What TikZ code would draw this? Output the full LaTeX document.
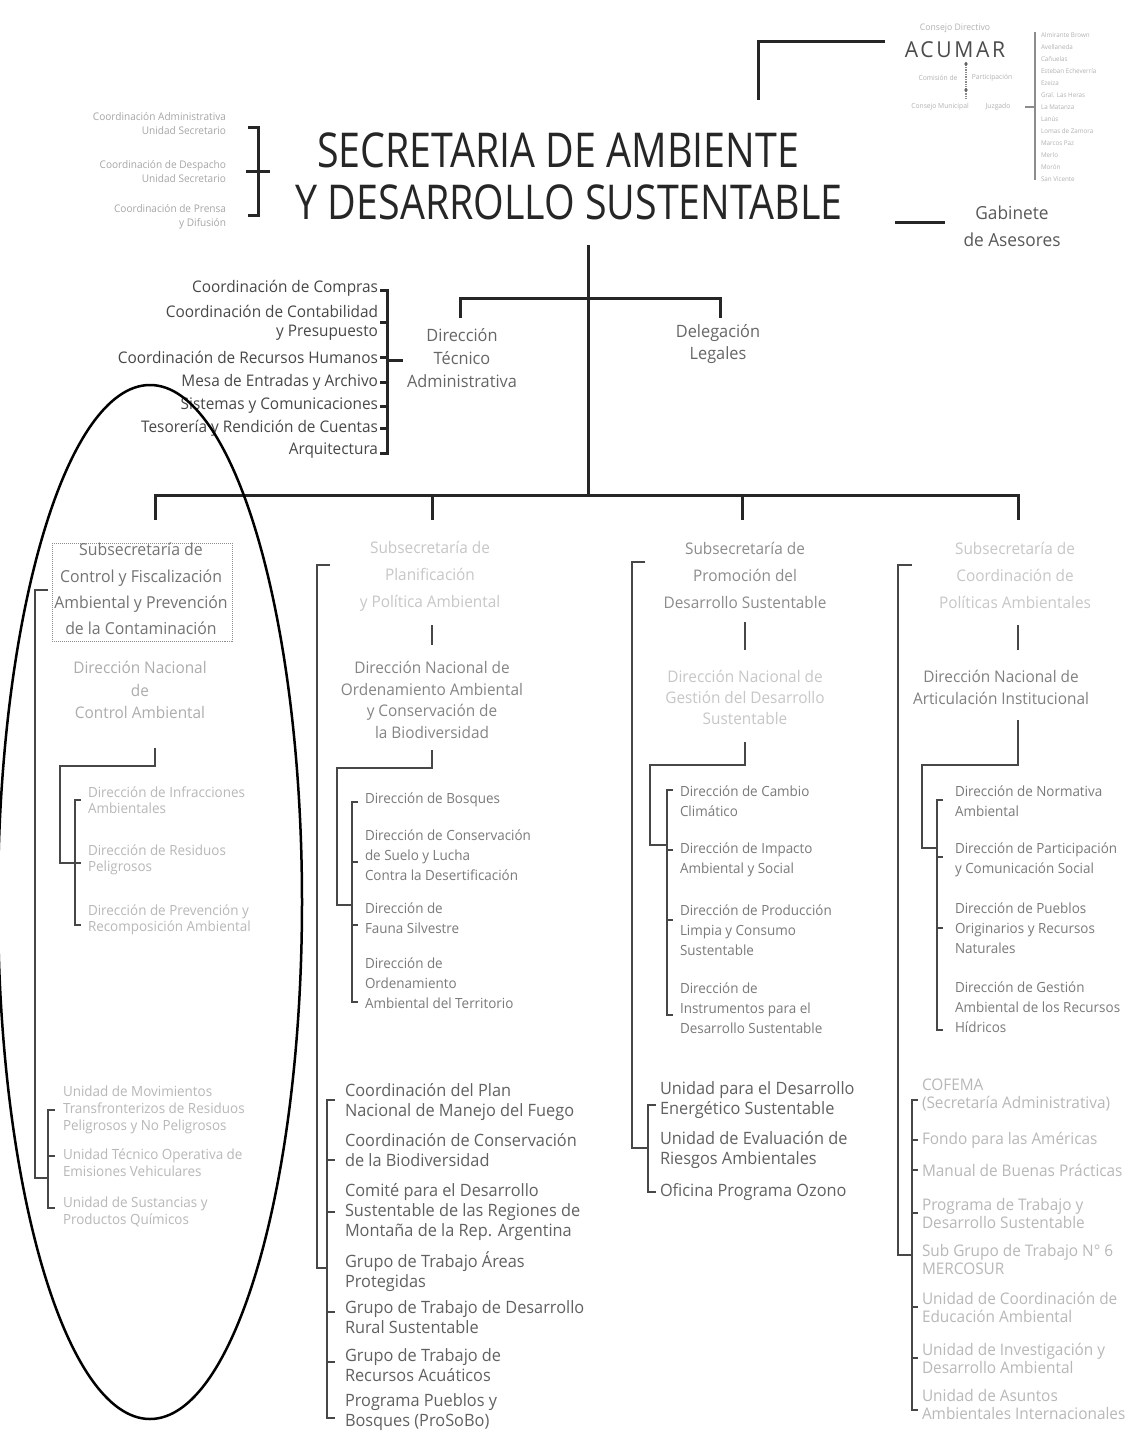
\documentclass[tikz,border=0pt]{standalone}
\usepackage{fontspec}
\setmainfont{Open Sans}[FakeStretch=0.96]
\newfontfamily\titlefont{Open Sans}[FakeStretch=0.82]
\begin{document}
\begin{tikzpicture}[x=1bp,y=-1bp,
  T/.style n args={3}{font=\fontsize{#1bp}{#2bp}\selectfont, text=#3, inner sep=0pt, outer sep=0pt},
  L/.style={align=left, anchor=west},
  R/.style={align=right, anchor=east},
  C/.style={align=center},
  main/.style={draw=black!85, line width=3bp},
  ln/.style={draw=black!72, line width=1.8bp},
  lnf/.style={draw=black!45, line width=1.4bp}]
\useasboundingbox (0,0) rectangle (1139,1451);
\fill[white] (0,0) rectangle (1139,1451);

% ---------- title ----------
\node[inner sep=0pt, text=black!85, font=\titlefont\fontsize{48bp}{52bp}\selectfont] (t1) at (558,150) {SECRETARIA DE AMBIENTE};
\node[inner sep=0pt, text=black!85, font=\titlefont\fontsize{48bp}{52bp}\selectfont] (t2) at (569,202) {Y DESARROLLO SUSTENTABLE};

% top-left coordinations
\node[T={10.5}{14}{black!35},R] (ca) at (226,124) {Coordinación Administrativa\\Unidad Secretario};
\node[T={10.5}{14}{black!35},R] (cd) at (226,172) {Coordinación de Despacho\\Unidad Secretario};
\node[T={10.5}{14}{black!35},R] (cp) at (226,217) {Coordinación de Prensa\\y Difusión};
\draw[main] (248,128) -- (258,128) -- (258,215) -- (248,215);
\draw[main] (246,172) -- (270,172);

% ACUMAR
\node[T={9}{10}{black!30}] (cdir) at (955,28) {Consejo Directivo};
\node[T={22}{24}{black!70}] (acumar) at (955,50) {\addfontfeatures{LetterSpace=12}ACUMAR};
\draw[main] (885,42) -- (758,42) -- (758,100);
\draw[lnf, densely dotted] (966,62) -- (966,98);
\fill[black!60] (966,64) circle (1.8) (966,90) circle (1.8);
\node[T={7}{8}{black!30}] (ac1) at (938,78) {Comisión de};
\node[T={7}{8}{black!30}] (ac2) at (992,78) {Participación};
\node[T={7}{8}{black!30}] (ac3) at (940,107) {Consejo Municipal};
\node[T={7}{8}{black!30}] (ac4) at (998,107) {Juzgado};
\draw[lnf] (1025,107) -- (1035,107);
\draw[lnf] (1035,32) -- (1035,180);
\foreach \y/\t in {35/Almirante Brown,47/Avellaneda,59/Cañuelas,71/Esteban Echeverría,83/Ezeiza,95/Gral. Las Heras,107/La Matanza,119/Lanús,131/Lomas de Zamora,143/Marcos Paz,155/Merlo,167/Morón,179/San Vicente}
  \node[T={6.5}{7}{black!30},L] at (1041,\y) {\t};

% Gabinete
\draw[main] (895,222) -- (945,222);
\node[T={18}{27}{black!65},C] (gab) at (1012,226) {Gabinete\\de Asesores};

% ---------- main trunk ----------
\draw[main] (588,245) -- (588,495);
\draw[main] (460,318) -- (460,298) -- (720,298) -- (720,318);
\draw[main] (155,520) -- (155,495) -- (1018,495) -- (1018,520);
\draw[main] (432,495) -- (432,520);
\draw[main] (742,495) -- (742,520);

% Direccion Tecnico Administrativa + list
\node[T={17}{23}{black!60},C] (dta) at (462,358) {Dirección\\Técnico\\Administrativa};
\node[T={17}{22}{black!60},C] (dl) at (718,344) {Delegación\\Legales};
\draw[main] (380,290) -- (387,290) -- (387,453) -- (380,453);
\foreach \y in {322,357,382,406,428} \draw[main] (380,\y) -- (387,\y);
\draw[main] (387,360) -- (403,360);
\foreach \y/\t in {288/Coordinación de Compras,311/Coordinación de Contabilidad,333/y Presupuesto,357/Coordinación de Recursos Humanos,382/Mesa de Entradas y Archivo,406/Sistemas y Comunicaciones,428/Tesorería y Rendición de Cuentas,451/Arquitectura}
  \node[T={16}{18}{black!72},R] at (378,\y) {\t};

% ---------- column 1 ----------
\draw[black!45, densely dotted, line width=1bp] (52,543) rectangle (232,641);
\node[T={16.5}{26.3}{black!55},C] (s1) at (141,589) {Subsecretaría de\\Control y Fiscalización\\Ambiental y Prevención\\de la Contaminación};
\node[T={16}{22.5}{black!32},C] (dn1) at (140,690) {Dirección Nacional\\de\\Control Ambiental};
\draw[ln] (155,748) -- (155,766) -- (60,766) -- (60,863) -- (75,863);
\draw[ln] (81,800) -- (75,800) -- (75,925) -- (81,925);
\draw[ln] (75,863) -- (81,863);
\node[T={14}{15.5}{black!28},L] at (88,800) {Dirección de Infracciones\\Ambientales};
\node[T={14}{15.5}{black!28},L] at (88,860) {Dirección de Residuos\\Peligrosos};
\node[T={14}{15.5}{black!28},L] at (88,920) {Dirección de Prevención y\\Recomposición Ambiental};
\draw[ln] (48,590) -- (35,590) -- (35,1178) -- (48,1178);
\draw[ln] (55,1110) -- (48,1110) -- (48,1208) -- (55,1208);
\draw[ln] (48,1156) -- (55,1156);
\node[T={14}{17}{black!28},L] at (63,1110) {Unidad de Movimientos\\Transfronterizos de Residuos\\Peligrosos y No Peligrosos};
\node[T={14}{17}{black!28},L] at (63,1163) {Unidad Técnico Operativa de\\Emisiones Vehiculares};
\node[T={14}{17}{black!28},L] at (63,1212) {Unidad de Sustancias y\\Productos Químicos};
\draw[black, line width=2.5bp] (150,902) ellipse [x radius=152, y radius=517];

% ---------- column 2 ----------
\node[T={16}{27}{black!22},C] (s2) at (430,576) {Subsecretaría de\\Planificación\\y Política Ambiental};
\draw[ln] (330,565) -- (317,565) -- (317,1268) -- (327,1268);
\draw[ln] (432,625) -- (432,645);
\node[T={16}{21.7}{black!48},C] (dn2) at (432,700) {Dirección Nacional de\\Ordenamiento Ambiental\\y Conservación de\\la Biodiversidad};
\draw[ln] (432,750) -- (432,768) -- (337,768) -- (337,905) -- (352,905);
\draw[ln] (358,802) -- (352,802) -- (352,1002) -- (358,1002);
\foreach \y in {862,925} \draw[ln] (352,\y) -- (358,\y);
\node[T={14}{20}{black!52},L] at (365,800) {Dirección de Bosques};
\node[T={14}{20}{black!52},L] at (365,855) {Dirección de Conservación\\de Suelo y Lucha\\Contra la Desertificación};
\node[T={14}{20}{black!52},L] at (365,918) {Dirección de\\Fauna Silvestre};
\node[T={14}{20}{black!52},L] at (365,983) {Dirección de\\Ordenamiento\\Ambiental del Territorio};
\draw[ln] (335,1100) -- (327,1100) -- (327,1418) -- (335,1418);
\foreach \y in {1160,1212,1312,1362} \draw[ln] (327,\y) -- (335,\y);
\node[T={17}{20}{black!62},L] at (345,1102) {Coordinación del Plan\\Nacional de Manejo del Fuego};
\node[T={17}{20}{black!62},L] at (345,1150) {Coordinación de Conservación\\de la Biodiversidad};
\node[T={17}{20}{black!62},L] at (345,1212) {Comité para el Desarrollo\\Sustentable de las Regiones de\\Montaña de la Rep. Argentina};
\node[T={17}{20}{black!62},L] at (345,1272) {Grupo de Trabajo Áreas\\Protegidas};
\node[T={17}{20}{black!62},L] at (345,1317) {Grupo de Trabajo de Desarrollo\\Rural Sustentable};
\node[T={17}{20}{black!62},L] at (345,1365) {Grupo de Trabajo de\\Recursos Acuáticos};
\node[T={17}{20}{black!62},L] at (345,1412) {Programa Pueblos y\\Bosques (ProSoBo)};

% ---------- column 3 ----------
\node[T={16}{27}{black!45},C] (s3) at (745,575) {Subsecretaría de\\Promoción del\\Desarrollo Sustentable};
\draw[ln] (645,562) -- (632,562) -- (632,1148) -- (648,1148);
\draw[ln] (745,622) -- (745,650);
\node[T={16}{21}{black!22},C] (dn3) at (745,697) {Dirección Nacional de\\Gestión del Desarrollo\\Sustentable};
\draw[ln] (745,742) -- (745,765) -- (650,765) -- (650,845) -- (667,845);
\draw[ln] (673,790) -- (667,790) -- (667,1015) -- (673,1015);
\foreach \y in {850,920} \draw[ln] (667,\y) -- (673,\y);
\node[T={14}{20}{black!52},L] at (680,801) {Dirección de Cambio\\Climático};
\node[T={14}{20}{black!52},L] at (680,860) {Dirección de Impacto\\Ambiental y Social};
\node[T={14}{20}{black!52},L] at (680,930) {Dirección de Producción\\Limpia y Consumo\\Sustentable};
\node[T={14}{20}{black!52},L] at (680,1008) {Dirección de\\Instrumentos para el\\Desarrollo Sustentable};
\draw[ln] (656,1105) -- (648,1105) -- (648,1192) -- (656,1192);
\node[T={17}{20}{black!62},L] at (660,1100) {Unidad para el Desarrollo\\Energético Sustentable};
\node[T={17}{20}{black!62},L] at (660,1150) {Unidad de Evaluación de\\Riesgos Ambientales};
\node[T={17}{20}{black!62},L] at (660,1192) {Oficina Programa Ozono};

% ---------- column 4 ----------
\node[T={16}{27}{black!22},C] (s4) at (1015,575) {Subsecretaría de\\Coordinación de\\Políticas Ambientales};
\draw[ln] (912,565) -- (898,565) -- (898,1255) -- (912,1255);
\draw[ln] (1018,625) -- (1018,650);
\node[T={16}{22}{black!50},C] (dn4) at (1001,687) {Dirección Nacional de\\Articulación Institucional};
\draw[ln] (1018,720) -- (1018,765) -- (922,765) -- (922,848) -- (937,848);
\draw[ln] (943,800) -- (937,800) -- (937,1030) -- (943,1030);
\foreach \y in {857,928} \draw[ln] (937,\y) -- (943,\y);
\node[T={14}{20}{black!52},L] at (955,801) {Dirección de Normativa\\Ambiental};
\node[T={14}{20}{black!52},L] at (955,860) {Dirección de Participación\\y Comunicación Social};
\node[T={14}{20}{black!52},L] at (955,928) {Dirección de Pueblos\\Originarios y Recursos\\Naturales};
\node[T={14}{20}{black!52},L] at (955,1007) {Dirección de Gestión\\Ambiental de los Recursos\\Hídricos};
\draw[ln] (918,1100) -- (912,1100) -- (912,1410) -- (918,1410);
\foreach \y in {1140,1170,1213,1307,1358} \draw[ln] (912,\y) -- (918,\y);
\node[T={16}{18}{black!28},L] at (922,1095) {COFEMA\\(Secretaría Administrativa)};
\node[T={16}{18}{black!28},L] at (922,1140) {Fondo para las Américas};
\node[T={16}{18}{black!28},L] at (922,1170) {Manual de Buenas Prácticas};
\node[T={16}{18}{black!28},L] at (922,1213) {Programa de Trabajo y\\Desarrollo Sustentable};
\node[T={16}{18}{black!28},L] at (922,1259) {Sub Grupo de Trabajo N° 6\\MERCOSUR};
\node[T={16}{18}{black!28},L] at (922,1307) {Unidad de Coordinación de\\Educación Ambiental};
\node[T={16}{18}{black!28},L] at (922,1358) {Unidad de Investigación y\\Desarrollo Ambiental};
\node[T={16}{18}{black!28},L] at (922,1404) {Unidad de Asuntos\\Ambientales Internacionales};
\end{tikzpicture}
\end{document}
